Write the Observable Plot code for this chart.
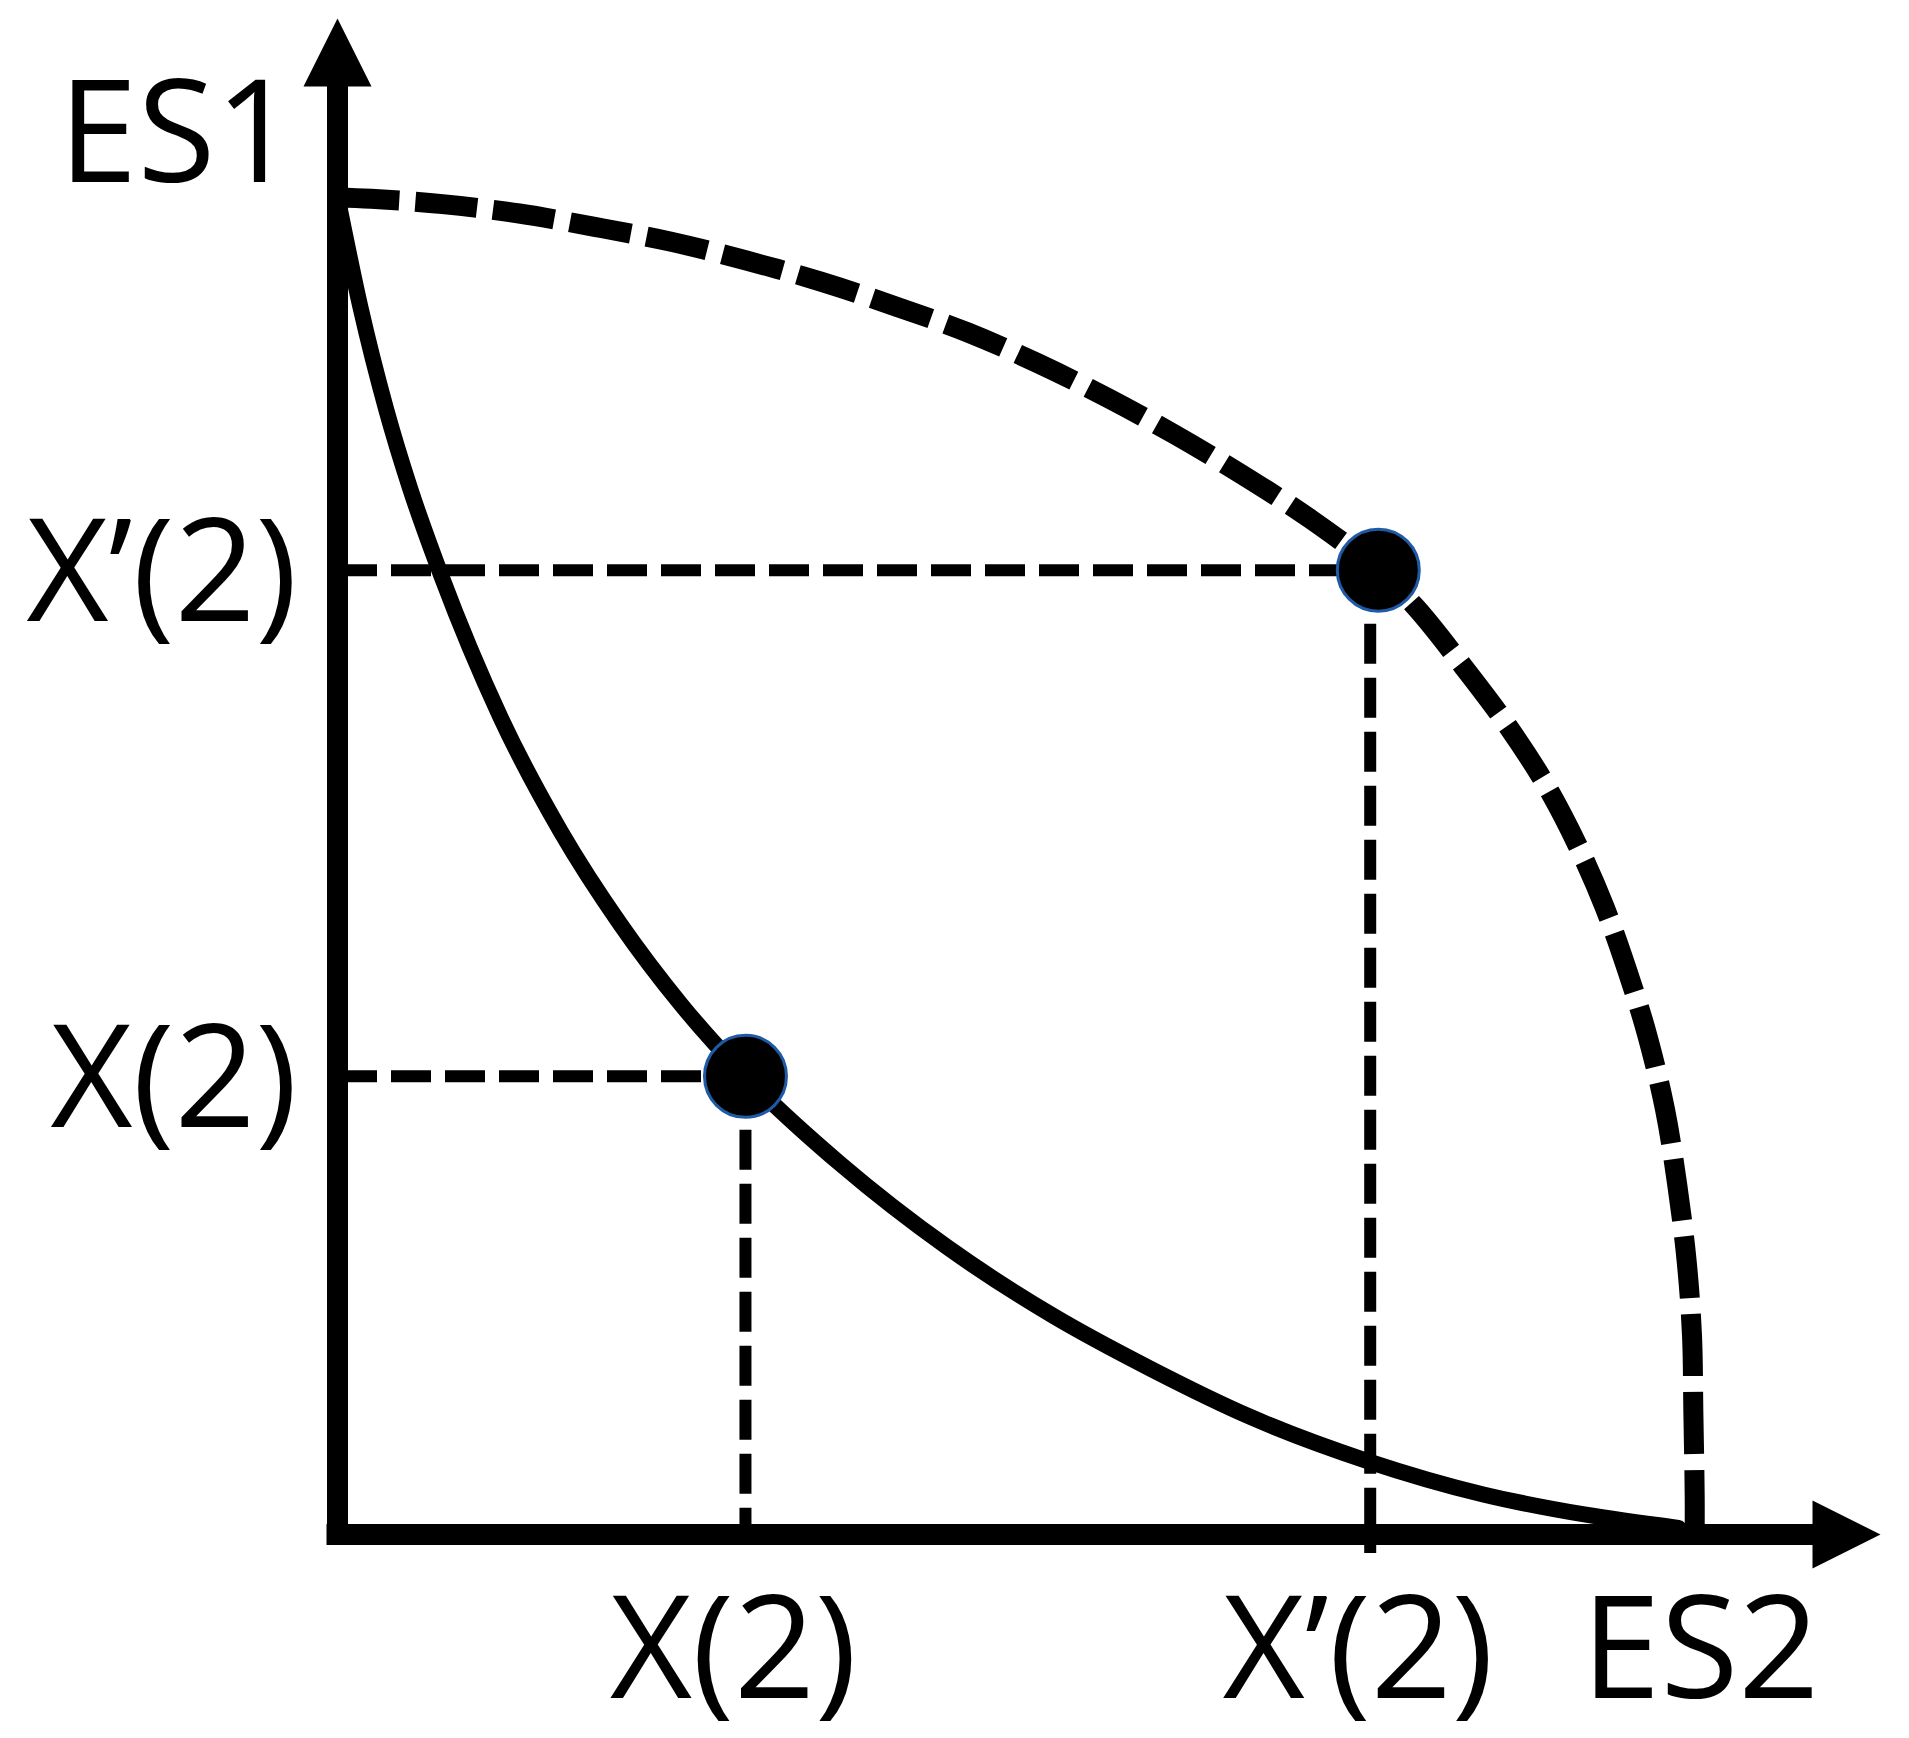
<!DOCTYPE html>
<html>
<head>
<meta charset="utf-8">
<script src="https://cdn.jsdelivr.net/npm/d3@7"></script>
<script src="https://cdn.jsdelivr.net/npm/@observablehq/plot@0.6"></script>
<style>
  html, body { margin: 0; padding: 0; background: #fff; }
  svg { display: block; }
</style>
</head>
<body>
<div id="chart"></div>
<script>
// ---- data (conceptual units) ----
const es2Max = 11.46;  // end of the ES2 axis (arrow tip)
const es1Max = 11.35;  // end of the ES1 axis (arrow tip)

// solid (convex) trade-off curve
const solidX = [0, 0.17, 0.36, 0.54, 0.77, 1.21, 1.66, 2.10, 2.55, 3.03, 3.74, 4.53, 5.31, 6.04, 6.78, 7.65, 8.51, 9.26, 9.96];
const solidY = [10.01, 9.19, 8.43, 7.83, 7.18, 6.12, 5.26, 4.57, 3.97, 3.43, 2.77, 2.15, 1.64, 1.24, 0.88, 0.55, 0.30, 0.15, 0.05];

// dashed (concave) frontier
const dashedX = [0, 0.25, 0.78, 1.35, 1.91, 2.47, 3.03, 3.59, 4.13, 4.68, 5.20, 5.72, 6.21, 6.71, 7.23, 7.73, 8.01, 8.36, 8.68, 8.97, 9.21, 9.41, 9.58, 9.73, 9.86, 9.95, 10.02, 10.06, 10.07, 10.08, 10.08];
const dashedY = [10.01, 10.00, 9.96, 9.89, 9.79, 9.68, 9.54, 9.38, 9.20, 9.00, 8.77, 8.51, 8.24, 7.94, 7.60, 7.22, 6.94, 6.50, 6.07, 5.62, 5.16, 4.70, 4.22, 3.73, 3.18, 2.62, 2.05, 1.49, 0.92, 0.29, 0];

// highlighted points and their guide lines
const pointLabels = ["X(2)", "X\u2019(2)"];
const pointX = [3.03, 7.73];
const pointY = [3.43, 7.22];
const guideX = [3.03, 7.67];

const axisNames = ["ES1", "ES2"];

// ---- tables built from the arrays ----
const solid = solidX.map((x, i) => ({x, y: solidY[i]}));
const dashed = dashedX.map((x, i) => ({x, y: dashedY[i]}));
const points = pointLabels.map((label, i) => ({label, x: pointX[i], y: pointY[i], gx: guideX[i]}));
const axisEnds = [
  {x: 0, y: es1Max, rotate: 0},
  {x: es2Max, y: 0, rotate: 90}
];

// filled arrowhead with its tip at the anchor point
const arrowHead = {
  draw(context, size) {
    const r = Math.sqrt(size / Math.PI);
    const hw = r, len = r * 2.0;
    context.moveTo(0, 0);
    context.lineTo(hw, len);
    context.lineTo(-hw, len);
    context.closePath();
  }
};

const FONT = 142;
const guideStyle = {stroke: "black", strokeWidth: 12, strokeDasharray: "40,14", strokeLinecap: "butt"};

const chart = Plot.plot({
  width: 1909,
  height: 1738,
  marginLeft: 337,
  marginRight: 29,
  marginTop: 18,
  marginBottom: 204,
  x: {domain: [0, es2Max], axis: null},
  y: {domain: [0, es1Max], axis: null},
  style: {background: "white", fontFamily: "'Open Sans', sans-serif", overflow: "visible"},
  marks: [
    // guide lines
    Plot.ruleY(points, {y: "y", x1: 0, x2: "x", ...guideStyle}),
    Plot.ruleX([points[0]], {x: "gx", y1: "y", y2: 0, ...guideStyle}),
    Plot.ruleX([points[1]], {x: "gx", y1: "y", y2: 0, insetBottom: -19, ...guideStyle}),
    // curves
    Plot.line(dashed, {x: "x", y: "y", curve: "catmull-rom", stroke: "black", strokeWidth: 20,
      strokeDasharray: "62,16", strokeLinecap: "butt"}),
    Plot.line(solid, {x: "x", y: "y", curve: "monotone-x", stroke: "black", strokeWidth: 16}),
    // points
    Plot.dot(points, {x: "x", y: "y", r: 41, fill: "black", stroke: "#1f5aa6", strokeWidth: 3}),
    // axes
    Plot.ruleX([0], {y1: es1Max, y2: 0, insetTop: 40, stroke: "black", strokeWidth: 21, strokeLinecap: "square"}),
    Plot.ruleY([0], {x1: 0, x2: es2Max, insetRight: 40, stroke: "black", strokeWidth: 21, strokeLinecap: "square"}),
    Plot.dot(axisEnds, {x: "x", y: "y", rotate: "rotate", symbol: arrowHead, r: 34, fill: "black", stroke: "none"}),
    // labels
    Plot.text(points, {x: 0, y: "y", text: "label", textAnchor: "end", dx: -40, dy: 5, fontSize: FONT, fill: "black"}),
    Plot.text(points, {x: "gx", y: 0, text: "label", dx: -12, dy: 118, fontSize: FONT, fill: "black"}),
    Plot.text([axisNames[0]], {x: 0, y: es1Max, text: d => d, dx: -160, dy: 118, fontSize: FONT, fill: "black"}),
    Plot.text([axisNames[1]], {x: es2Max, y: 0, text: d => d, dx: -180, dy: 118, fontSize: FONT, fill: "black"})
  ]
});

document.getElementById("chart").appendChild(chart);
</script>
</body>
</html>
